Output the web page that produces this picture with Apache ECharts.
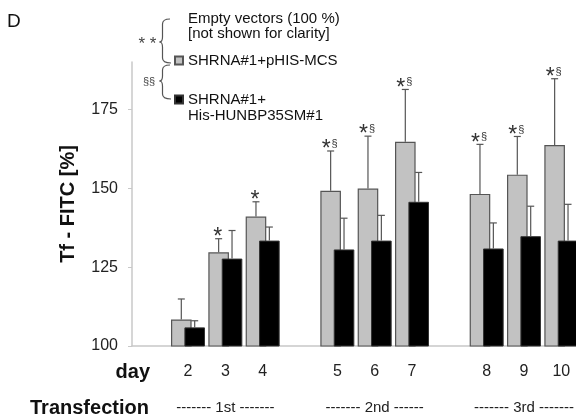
<!DOCTYPE html>
<html><head><meta charset="utf-8">
<script src="https://cdn.jsdelivr.net/npm/echarts@6/dist/echarts.min.js"></script>
<style>html,body{margin:0;padding:0;background:#fff}#c{width:576px;height:418px}</style>
</head><body><div id="c"></div>
<script>
const categories = ['', '2', '3', '4', '', '5', '6', '7', '', '8', '9', '10'];
const transfectionLabels = ['', '', '------- 1st -------', '', '', '', '------- 2nd ------', '', '', '', '------- 3rd -------', ''];
const grayName = 'SHRNA#1+pHIS-MCS';
const blackName = 'SHRNA#1+\nHis-HUNBP35SM#1';
const grayValues = [null, 108.4, 129.7, 141.0, null, 149.2, 149.9, 164.7, null, 148.2, 154.3, 163.7];
const grayErrors = [null, 6.5, 4.3, 4.7, null, 12.6, 16.6, 16.6, null, 15.7, 12.1, 21.0];
const blackValues = [null, 105.9, 127.7, 133.4, null, 130.6, 133.4, 145.7, null, 130.9, 134.8, 133.4];
const blackErrors = [null, 2.1, 8.9, 4.3, null, 9.9, 8.0, 9.3, null, 8.1, 9.5, 11.5];
const significance = ['', '', '*', '*', '', '*§', '*§', '*§', '', '*§', '*§', '*§'];
const yTicks = [100, 125, 150, 175];
const yMin = 100, yMax = 190;

const FONT = 'Liberation Sans, Arial, sans-serif';
const BAR_W = 20.6;
const BAR_GAP = -0.35;
const HALF_OFF = BAR_W * (1 + BAR_GAP) / 2;

function errData(vals, errs) {
  const out = [];
  vals.forEach((v, i) => { if (v != null) out.push([i, v, errs[i]]); });
  return out;
}

function makeErrRender(sign, withSig) {
  return function (params, api) {
    const idx = api.value(0), mean = api.value(1), err = api.value(2);
    const base = api.coord([idx, mean]);
    const top = api.coord([idx, mean + err]);
    const x = base[0] + sign * HALF_OFF;
    const lineStyle = { stroke: '#555', lineWidth: 1.2 };
    const children = [
      { type: 'line', shape: { x1: x, y1: base[1], x2: x, y2: top[1] }, style: lineStyle },
      { type: 'line', shape: { x1: x - 3.5, y1: top[1], x2: x + 3.5, y2: top[1] }, style: lineStyle }
    ];
    if (withSig) {
      const s = significance[idx];
      if (s === '*') {
        children.push({ type: 'text', style: { text: '*', x: x - 1, y: top[1] - 1, align: 'center', verticalAlign: 'middle', font: '23px ' + FONT, fill: '#333' } });
      } else if (s === '*§') {
        children.push({ type: 'text', style: { text: '*', x: x - 4.5, y: top[1] - 1, align: 'center', verticalAlign: 'middle', font: '23px ' + FONT, fill: '#333' } });
        children.push({ type: 'text', style: { text: '§', x: x + 4, y: top[1] - 7, align: 'center', verticalAlign: 'middle', font: '11px ' + FONT, fill: '#333' } });
      }
    }
    return { type: 'group', children };
  };
}

function brace(xEnd, xSpine, xTip, yTop, yMid, yBot) {
  const st = { stroke: '#555', lineWidth: 1.2, fill: null };
  const r = 5;
  return [
    { type: 'bezierCurve', shape: { x1: xEnd, y1: yTop, cpx1: xSpine, cpy1: yTop, x2: xSpine, y2: yTop + r }, style: st },
    { type: 'line', shape: { x1: xSpine, y1: yTop + r, x2: xSpine, y2: yMid - r }, style: st },
    { type: 'bezierCurve', shape: { x1: xSpine, y1: yMid - r, cpx1: xSpine, cpy1: yMid, x2: xTip, y2: yMid }, style: st },
    { type: 'bezierCurve', shape: { x1: xTip, y1: yMid, cpx1: xSpine, cpy1: yMid, x2: xSpine, y2: yMid + r }, style: st },
    { type: 'line', shape: { x1: xSpine, y1: yMid + r, x2: xSpine, y2: yBot - r }, style: st },
    { type: 'bezierCurve', shape: { x1: xSpine, y1: yBot - r, cpx1: xSpine, cpy1: yBot, x2: xEnd + 1, y2: yBot }, style: st }
  ];
}

const chart = echarts.init(document.getElementById('c'), null, { renderer: 'canvas' });
chart.setOption({
  animation: false,
  backgroundColor: '#fff',
  textStyle: { fontFamily: FONT },
  grid: { left: 132, top: 62, width: 448, bottom: 72, containLabel: false, outerBoundsMode: 'none' },
  legend: [
    {
      data: [grayName], left: 174, top: 52.5, padding: 0, itemWidth: 8, itemHeight: 8, icon: 'rect', selectedMode: false,
      textStyle: { fontSize: 15, lineHeight: 16, color: '#111', fontFamily: FONT }
    },
    {
      data: [blackName], left: 174, top: 75.5, padding: 0, itemWidth: 8, itemHeight: 8, icon: 'rect', selectedMode: false,
      formatter: name => '\n' + name,
      textStyle: { fontSize: 15, lineHeight: 16, color: '#111', fontFamily: FONT }
    }
  ],
  xAxis: [
    {
      type: 'category', data: categories,
      axisLine: { show: true, lineStyle: { color: '#c8c8c8', width: 1.5 } },
      axisTick: { show: false },
      axisLabel: { interval: 0, margin: 18, fontSize: 16, color: '#222', fontFamily: FONT },
      splitLine: { show: false }
    },
    {
      type: 'category', data: transfectionLabels, position: 'bottom',
      axisLine: { show: false }, axisTick: { show: false }, splitLine: { show: false },
      axisLabel: { interval: 0, margin: 54, fontSize: 15, color: '#222', fontFamily: FONT }
    }
  ],
  yAxis: {
    type: 'value', min: yMin, max: yMax, interval: 25,
    name: 'Tf - FITC [%]', nameLocation: 'middle', nameGap: 54, nameRotate: 90,
    nameTextStyle: { fontSize: 20, fontWeight: 'bold', color: '#111', fontFamily: FONT },
    axisLine: { show: true, lineStyle: { color: '#c8c8c8', width: 1.5 } },
    axisTick: { show: true, length: 4, lineStyle: { color: '#c8c8c8' }, customValues: yTicks },
    axisLabel: { margin: 14, fontSize: 16, color: '#222', fontFamily: FONT, customValues: yTicks },
    splitLine: { show: false }
  },
  series: [
    {
      name: grayName, type: 'bar', data: grayValues, barWidth: BAR_W, barGap: (BAR_GAP * 100) + '%',
      itemStyle: { color: '#c2c2c2', borderColor: '#555', borderWidth: 1.2 }
    },
    {
      name: blackName, type: 'bar', data: blackValues, barWidth: BAR_W, barGap: (BAR_GAP * 100) + '%',
      itemStyle: { color: '#000', borderColor: '#333', borderWidth: 1 }
    },
    {
      type: 'custom', data: errData(grayValues, grayErrors), renderItem: makeErrRender(-1, true),
      encode: { x: 0, y: 1 }, z: 3, silent: true
    },
    {
      type: 'custom', data: errData(blackValues, blackErrors), renderItem: makeErrRender(1, false),
      encode: { x: 0, y: 1 }, z: 3, silent: true
    }
  ],
  graphic: [
    { type: 'text', left: 7, top: 12, style: { text: 'D', font: '19px ' + FONT, fill: '#111' } },
    { type: 'text', left: 188, top: 11, style: { text: 'Empty vectors (100 %)\n[not shown for clarity]', font: '15px ' + FONT, lineHeight: 15.5, fill: '#111' } },
    ...brace(170, 162.5, 159.5, 19, 42, 63),
    ...brace(170, 162.5, 159.5, 65, 81, 99),
    { type: 'text', x: 147.5, y: 44, style: { text: '* *', font: '17px ' + FONT, fill: '#444', align: 'center', verticalAlign: 'middle' } },
    { type: 'text', x: 149, y: 81.5, style: { text: '§§', font: '11px ' + FONT, fill: '#444', align: 'center', verticalAlign: 'middle' } },
    { type: 'text', x: 150, y: 372, style: { text: 'day', font: 'bold 20px ' + FONT, fill: '#111', align: 'right', verticalAlign: 'middle' } },
    { type: 'text', x: 30, y: 408, style: { text: 'Transfection', font: 'bold 20px ' + FONT, fill: '#111', align: 'left', verticalAlign: 'middle' } }
  ]
});
</script>
</body></html>
